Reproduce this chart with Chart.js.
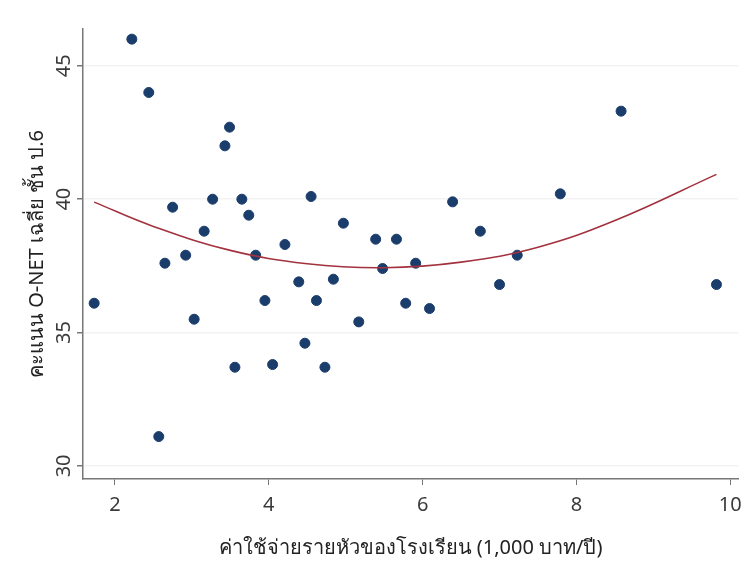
<!DOCTYPE html>
<html>
<head>
<meta charset="utf-8">
<script src="https://cdn.jsdelivr.net/npm/chart.js@4"></script>
<style>
  html, body { margin: 0; padding: 0; background: #fff; }
  #wrap { width: 756px; height: 562px; }
</style>
</head>
<body>
<div id="wrap"><canvas id="myChart"></canvas></div>
<script>
// ค่าใช้จ่ายรายหัว (1,000 บาท/ปี) กับ คะแนน O-NET ป.6
const spendX = [1.73, 2.22, 2.44, 2.57, 2.65, 2.75, 2.92, 3.03, 3.16, 3.27,
                3.43, 3.49, 3.56, 3.65, 3.74, 3.83, 3.95, 4.05, 4.21, 4.39,
                4.47, 4.55, 4.62, 4.73, 4.84, 4.97, 5.17, 5.39, 5.48, 5.66,
                5.78, 5.91, 6.09, 6.39, 6.75, 7.00, 7.23, 7.79, 8.58, 9.82];
const scoreY = [36.1, 46.0, 44.0, 31.1, 37.6, 39.7, 37.9, 35.5, 38.8, 40.0,
                42.0, 42.7, 33.7, 40.0, 39.4, 37.9, 36.2, 33.8, 38.3, 36.9,
                34.6, 40.1, 36.2, 33.7, 37.0, 39.1, 35.4, 38.5, 37.4, 38.5,
                36.1, 37.6, 35.9, 39.9, 38.8, 36.8, 37.9, 40.2, 43.3, 36.8];
// เส้น quadratic fit (อ่านค่าจากภาพ)
const fitX = [1.73, 2.5, 3.5, 4.5, 5.5, 6.5, 7.5, 8.5, 9.82];
const fitY = [39.89, 38.98, 38.08, 37.58, 37.43, 37.64, 38.2, 39.2, 40.93];

const xTicks = [2, 4, 6, 8, 10];
const yTicks = [30, 35, 40, 45];

const xTitle = 'ค่าใช้จ่ายรายหัวของโรงเรียน (1,000 บาท/ปี)';
const yTitle = 'คะแนน O-NET เฉลี่ย ชั้น ป.6';

const fontFamily = '"Noto Sans", "Open Sans", sans-serif';

// y tick labels ในภาพหมุน 90 องศา
const yTickLabels = {
    id: 'yTickLabels',
    afterDraw(chart) {
        const ctx = chart.ctx;
        const y = chart.scales.y;
        ctx.save();
        ctx.font = '20px ' + fontFamily;
        ctx.fillStyle = '#3a3a3a';
        ctx.textAlign = 'center';
        ctx.textBaseline = 'middle';
        yTicks.forEach(function (v) {
            ctx.save();
            ctx.translate(y.right - 19, y.getPixelForValue(v));
            ctx.rotate(-Math.PI / 2);
            ctx.fillText(String(v), 0, 0);
            ctx.restore();
        });
        ctx.restore();
    }
};

var ctx1 = document.getElementById('myChart');
var myChart = new Chart(ctx1, {
    type: 'scatter',
    data: {
        datasets: [{
            label: 'fit',
            type: 'line',
            data: fitX.map((x, i) => ({ x: x, y: fitY[i] })),
            borderColor: '#a3323f',
            borderWidth: 1.6,
            pointRadius: 0,
            tension: 0.4,
            fill: false
        }, {
            label: 'score',
            data: spendX.map((x, i) => ({ x: x, y: scoreY[i] })),
            backgroundColor: '#1a3d6c',
            borderColor: '#1a3d6c',
            pointRadius: 5,
            pointHoverRadius: 5
        }]
    },
    options: {
        responsive: true,
        maintainAspectRatio: false,
        animation: false,
        layout: { padding: { top: 29, right: 18, left: 0, bottom: 0 }, autoPadding: false },
        plugins: {
            legend: { display: false },
            tooltip: { enabled: false }
        },
        scales: {
            x: {
                type: 'linear',
                min: 1.585,
                max: 10.1,
                afterBuildTicks: (s) => { s.ticks = xTicks.map(v => ({ value: v })); },
                grid: { display: true, drawOnChartArea: false, drawTicks: true, tickLength: 6, tickColor: '#777' },
                border: { display: true, color: '#777', width: 1.5 },
                ticks: { color: '#3a3a3a', padding: 8, font: { family: fontFamily, size: 20 } },
                title: {
                    display: true,
                    text: xTitle,
                    color: '#222',
                    font: { family: fontFamily, size: 20 },
                    padding: { top: 11, bottom: 2 }
                }
            },
            y: {
                type: 'linear',
                min: 29.51,
                max: 46.38,
                afterBuildTicks: (s) => { s.ticks = yTicks.map(v => ({ value: v })); },
                grid: { color: 'rgba(0,0,0,0.05)', lineWidth: 1.5, tickLength: 6, tickColor: '#777' },
                border: { display: true, color: '#777', width: 1.5 },
                ticks: { display: false },
                title: {
                    display: true,
                    text: yTitle,
                    color: '#222',
                    font: { family: fontFamily, size: 20 },
                    padding: { top: 25, bottom: 28 }
                }
            }
        }
    },
    plugins: [yTickLabels]
});
</script>
</body>
</html>
